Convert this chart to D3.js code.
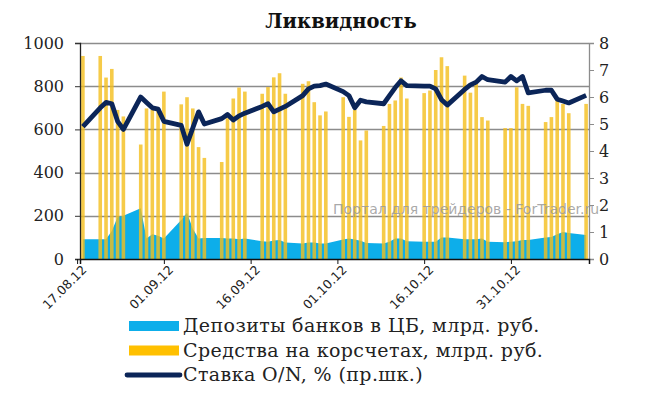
<!DOCTYPE html>
<html><head><meta charset="utf-8">
<script src="https://cdn.jsdelivr.net/npm/d3@7"></script>
<style>body{margin:0;background:#fff}svg{display:block}</style>
</head><body><svg id="c" width="648" height="395"></svg>
<script>
const dates = [
"2012-08-17",
"2012-08-20","2012-08-21","2012-08-22","2012-08-23","2012-08-24",
"2012-08-27","2012-08-28","2012-08-29","2012-08-30","2012-08-31",
"2012-09-03","2012-09-04","2012-09-05","2012-09-06","2012-09-07",
"2012-09-10","2012-09-11","2012-09-12","2012-09-13","2012-09-14",
"2012-09-17","2012-09-18","2012-09-19","2012-09-20","2012-09-21",
"2012-09-24","2012-09-25","2012-09-26","2012-09-27","2012-09-28",
"2012-10-01","2012-10-02","2012-10-03","2012-10-04","2012-10-05",
"2012-10-08","2012-10-09","2012-10-10","2012-10-11","2012-10-12",
"2012-10-15","2012-10-16","2012-10-17","2012-10-18","2012-10-19",
"2012-10-22","2012-10-23","2012-10-24","2012-10-25","2012-10-26",
"2012-10-29","2012-10-30","2012-10-31","2012-11-01","2012-11-02",
"2012-11-05","2012-11-06","2012-11-07","2012-11-08","2012-11-09",
"2012-11-12"];
const reserves = [
940,
940,840,880,690,660,
530,697,690,700,775,
716,749,697,518,468,
449,652,743,794,775,
765,796,841,860,765,
811,823,726,665,683,
749,658,690,549,595,
616,718,734,840,743,
768,780,875,934,893,
849,770,810,657,641,
606,606,795,718,709,
634,657,734,718,675,
718];
const deposits = [
92,
92,92,130,195,200,
235,95,115,108,95,
180,214,140,95,97,
97,95,95,92,95,
82,80,86,88,76,
72,76,76,72,72,
90,95,90,85,74,
72,80,95,95,82,
80,80,80,100,100,
91,91,91,95,80,
78,80,82,88,88,
100,102,115,125,120,
111];
const rate = [
4.9,
5.6,5.8,5.75,5.1,4.8,
6.0,5.8,5.6,5.55,5.1,
4.95,4.25,4.85,5.45,5.0,
5.2,5.35,5.15,5.3,5.4,
5.65,5.75,5.45,5.55,5.65,
6.05,6.3,6.4,6.42,6.48,
6.2,6.05,5.6,5.88,5.82,
5.75,6.05,6.35,6.6,6.42,
6.4,6.4,6.3,5.9,5.7,
6.28,6.45,6.55,6.76,6.64,
6.55,6.76,6.6,6.76,6.15,
6.25,6.25,5.92,5.85,5.78,
6.06];
const leftTicks = [0,200,400,600,800,1000];
const rightTicks = [0,1,2,3,4,5,6,7,8];
const xTickLabels = ["17.08.12","01.09.12","16.09.12","01.10.12","16.10.12","31.10.12"];
const seriesNames = ["Депозиты банков в ЦБ, млрд. руб.","Средства на корсчетах, млрд. руб.","Ставка O/N, % (пр.шк.)"];
const title = "Ликвидность";
const watermark = "Портал для трейдеров - ForTrader.ru";

const parse = d3.timeParse("%d.%m.%y");
const pd = d3.timeParse("%Y-%m-%d");
const data = dates.map((d,i)=>({date:d3.timeHour.offset(pd(d),12), res:reserves[i], dep:deposits[i], rate:rate[i]}));

const L=80, R=589, T=43, B=259;
const x = d3.scaleTime().domain([pd("2012-08-17"), d3.timeHour.offset(pd("2012-11-12"),24)]).range([L,R]);
const yL = d3.scaleLinear().domain([0,1000]).range([B,T]);
const yR = d3.scaleLinear().domain([0,8]).range([B,T]);

const svg = d3.select("#c");
const serif = "'DejaVu Serif', serif";

// title
svg.append("text").attr("x",341).attr("y",28).attr("text-anchor","middle")
  .attr("font-family",serif).attr("font-weight","bold").attr("font-size",19.5).attr("fill","#111").text(title);

// gridlines
svg.append("g").selectAll("line").data(leftTicks.filter(v=>v>0)).join("line")
  .attr("x1",L).attr("x2",R).attr("y1",d=>Math.round(yL(d))+0.5).attr("y2",d=>Math.round(yL(d))+0.5)
  .attr("stroke","#8c8c8c").attr("stroke-width",1.3);

// area
const area = d3.area().x(d=>x(d.date)).y0(yL(0)).y1(d=>yL(d.dep));
svg.append("path").datum(data).attr("d",area).attr("fill","#0DAEEA");

// bars
const bw = 3.6;
svg.append("g").selectAll("rect").data(data).join("rect")
  .attr("x",d=>x(d.date)-bw/2).attr("width",bw)
  .attr("y",d=>yL(d.res)).attr("height",d=>yL(0)-yL(d.res))
  .attr("fill","#F4BE1C").attr("fill-opacity",0.8);

// watermark
svg.append("text").attr("x",333).attr("y",214).attr("font-family","'DejaVu Sans', sans-serif")
  .attr("font-size",14).attr("fill","#9a9a9a").attr("fill-opacity",0.85).text(watermark);

// line
const line = d3.line().x(d=>x(d.date)).y(d=>yR(d.rate));
svg.append("path").datum(data).attr("d",line).attr("fill","none")
  .attr("stroke","#0B2558").attr("stroke-width",4.8).attr("stroke-linejoin","round").attr("stroke-linecap","butt");

// left axis
const gL = svg.append("g").attr("transform",`translate(${L},0)`)
  .call(d3.axisLeft(yL).tickValues(leftTicks).tickSize(5).tickPadding(11).tickFormat(d3.format("d")));
gL.select(".domain").attr("stroke","#222").attr("stroke-width",1.3);
gL.selectAll(".tick line").attr("stroke","#333");
gL.selectAll("text").attr("font-family",serif).attr("font-size",16).attr("fill","#222");

// right axis
const gR = svg.append("g").attr("transform",`translate(${R},0)`)
  .call(d3.axisRight(yR).tickValues(rightTicks).tickSize(5).tickPadding(5).tickFormat(d3.format("d")));
gR.select(".domain").attr("stroke","#8c8c8c").attr("stroke-width",1.3);
gR.selectAll(".tick line").attr("stroke","#8c8c8c");
gR.selectAll("text").attr("font-family",serif).attr("font-size",16).attr("fill","#222");

// bottom axis
const tickDates = xTickLabels.map(s=>d3.timeHour.offset(parse(s),-12));
const gB = svg.append("g").attr("transform",`translate(0,${B})`)
  .call(d3.axisBottom(x).tickValues(tickDates).tickSize(5).tickFormat((d,i)=>xTickLabels[i]));
gB.select(".domain").attr("stroke","#111").attr("stroke-width",1.5);
gB.selectAll(".tick line").attr("stroke","#111");
gB.selectAll("text").attr("font-family","'DejaVu Sans', sans-serif").attr("font-size",12.5).attr("fill","#222")
  .attr("text-anchor","end").attr("dy",0).attr("transform","translate(4,6) rotate(-45)");

// legend
const lg = svg.append("g");
const colors = ["#0DAEEA","#FFC000","#0B2558"];
seriesNames.forEach((n,i)=>{
  const cy = 326 + i*24.5;
  if(i<2) lg.append("rect").attr("x",129).attr("y",cy-5).attr("width",50).attr("height",10).attr("fill",colors[i]);
  else lg.append("line").attr("x1",127).attr("x2",180).attr("y1",cy).attr("y2",cy).attr("stroke",colors[i]).attr("stroke-width",4.8).attr("stroke-linecap","round");
  lg.append("text").attr("x",183).attr("y",cy+6).attr("font-family",serif).attr("font-size",19).attr("letter-spacing",0.4).attr("fill","#222").text(n);
});
</script></body></html>
